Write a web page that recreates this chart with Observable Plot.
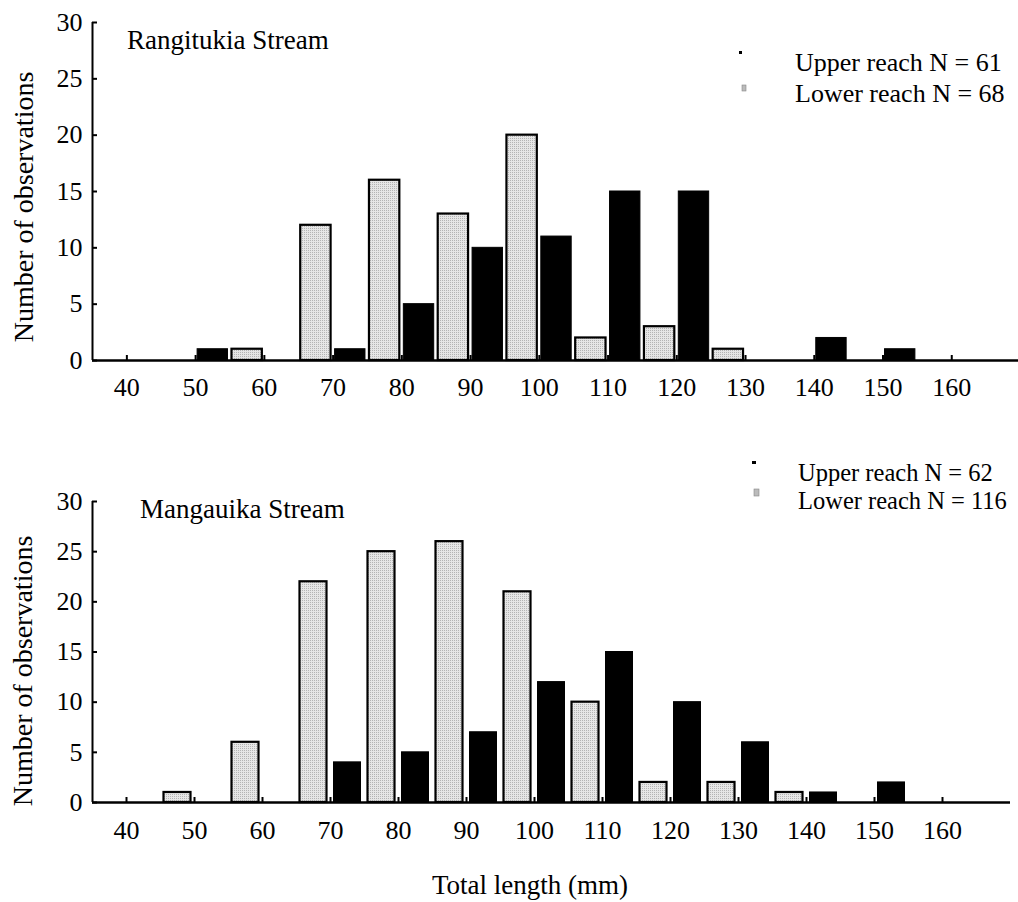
<!DOCTYPE html>
<html>
<head>
<meta charset="utf-8">
<script src="https://cdn.jsdelivr.net/npm/d3@7"></script>
<script src="https://cdn.jsdelivr.net/npm/@observablehq/plot@0.6"></script>
<style>
  html, body { margin: 0; padding: 0; background: #fff; overflow: hidden; }
  #wrap { position: relative; width: 1018px; height: 902px; overflow: hidden; font-family: "Liberation Serif", "Times New Roman", serif; }
  #wrap > svg, #wrap > .panel { position: absolute; left: 0; }
  .panel svg { display: block; max-width: none !important; }
</style>
</head>
<body>
<div id="wrap"></div>
<script>
// ---- data ----
const categories = [40, 50, 60, 70, 80, 90, 100, 110, 120, 130, 140, 150, 160];
// lower reach bar of a category = bin [c-5, c); upper reach bar = bin [c, c+5)
const rangitukiaLower = [0, 0, 1, 12, 16, 13, 20, 2, 3, 1, 0, 0, 0];
const rangitukiaUpper = [0, 1, 0, 1, 5, 10, 11, 15, 15, 0, 2, 1, 0];
const mangauikaLower  = [0, 1, 6, 22, 25, 26, 21, 10, 2, 2, 1, 0, 0];
const mangauikaUpper  = [0, 0, 0, 4, 5, 7, 12, 15, 10, 6, 1, 2, 0];
const yTicks = [0, 5, 10, 15, 20, 25, 30];
const binWidth = 5;
const xDomain = [35, 170];

const FONT = '"Liberation Serif", "Times New Roman", serif';
const wrap = document.getElementById("wrap");

function panel(lower, upper, o) {
  const lowerData = categories.map((c, i) => ({cat: c, value: lower[i]}));
  const upperData = categories.map((c, i) => ({cat: c, value: upper[i]}));
  return Plot.plot({
    width: 1018,
    height: o.height,
    marginLeft: 92,
    marginRight: o.marginRight,
    marginTop: o.marginTop,
    marginBottom: o.marginBottom,
    style: {fontFamily: FONT, fontSize: "26px", color: "#000", background: "transparent", overflow: "visible"},
    x: {type: "linear", domain: xDomain},
    y: {domain: [0, 30]},
    marks: [
      Plot.rectY(lowerData, {x1: d => d.cat - binWidth, x2: "cat", y: "value",
        fill: "url(#dots)", stroke: "#000", strokeWidth: 2.2, insetLeft: o.inset, insetRight: o.inset}),
      Plot.rectY(upperData, {x1: "cat", x2: d => d.cat + binWidth, y: "value",
        fill: "#000", stroke: "#000", strokeWidth: 1, insetLeft: o.inset, insetRight: o.inset}),
      Plot.ruleY([0], {stroke: "#000", strokeWidth: 2.6}),
      Plot.ruleX([xDomain[0]], {y1: 0, y2: 30, stroke: "#000", strokeWidth: 2}),
      Plot.axisX(categories, {tickSize: -5, tickPadding: o.xPad, strokeWidth: 2, fontSize: 26, label: null}),
      Plot.axisY(yTicks, {tickSize: -5, tickPadding: 15, strokeWidth: 2, fontSize: 26, label: null})
    ]
  });
}

const topPanel = document.createElement("div");
topPanel.className = "panel";
topPanel.style.top = "0px";
topPanel.appendChild(panel(rangitukiaLower, rangitukiaUpper,
  {height: 410, marginTop: 22, marginBottom: 50, marginRight: -2, inset: 2, xPad: 22}));
wrap.appendChild(topPanel);

const bottomPanel = document.createElement("div");
bottomPanel.className = "panel";
bottomPanel.style.top = "440px";
bottomPanel.appendChild(panel(mangauikaLower, mangauikaUpper,
  {height: 410, marginTop: 61, marginBottom: 48, marginRight: 8, inset: 3.5, xPad: 23}));
wrap.appendChild(bottomPanel);

// ---- annotations (titles, legends, axis titles) ----
const ann = d3.select(wrap).append("svg")
  .attr("width", 1018).attr("height", 902)
  .style("top", "0px").style("pointer-events", "none")
  .attr("font-family", FONT).attr("fill", "#000");

const pat = ann.append("defs").append("pattern")
  .attr("id", "dots").attr("width", 2).attr("height", 2).attr("patternUnits", "userSpaceOnUse");
pat.append("rect").attr("width", 2).attr("height", 2).attr("fill", "#e6e6e6");
pat.append("rect").attr("width", 1).attr("height", 1).attr("fill", "#b4b4b4");

function txt(s, x, y, size, anchor = "start", rotate = false) {
  const t = ann.append("text").attr("font-size", size).attr("text-anchor", anchor).text(s);
  if (rotate) t.attr("transform", `translate(${x},${y}) rotate(-90)`);
  else t.attr("x", x).attr("y", y);
  return t;
}

// panel titles
txt("Rangitukia Stream", 127, 49, 27);
txt("Mangauika Stream", 140, 518, 27);

// legends
ann.append("rect").attr("x", 739).attr("y", 51).attr("width", 3).attr("height", 3).attr("fill", "#000");
ann.append("rect").attr("x", 742).attr("y", 85).attr("width", 4).attr("height", 6).attr("fill", "#bbb").attr("stroke", "#888").attr("stroke-width", 0.6);
txt(`Upper reach N = ${d3.sum(rangitukiaUpper)}`, 795, 71, 26);
txt(`Lower reach N = ${d3.sum(rangitukiaLower)}`, 795, 101.5, 26);

ann.append("rect").attr("x", 752).attr("y", 461).attr("width", 4).attr("height", 3).attr("fill", "#000");
ann.append("rect").attr("x", 754).attr("y", 489).attr("width", 5).attr("height", 7).attr("fill", "#bbb").attr("stroke", "#888").attr("stroke-width", 0.6);
txt(`Upper reach N = ${d3.sum(mangauikaUpper)}`, 798, 481, 24.5);
txt(`Lower reach N = ${d3.sum(mangauikaLower)}`, 798, 509, 24.5);

// axis titles
txt("Number of observations", 32.5, 207, 28, "middle", true);
txt("Number of observations", 32, 671, 28, "middle", true);
txt("Total length (mm)", 530, 894, 27, "middle");
</script>
</body>
</html>
